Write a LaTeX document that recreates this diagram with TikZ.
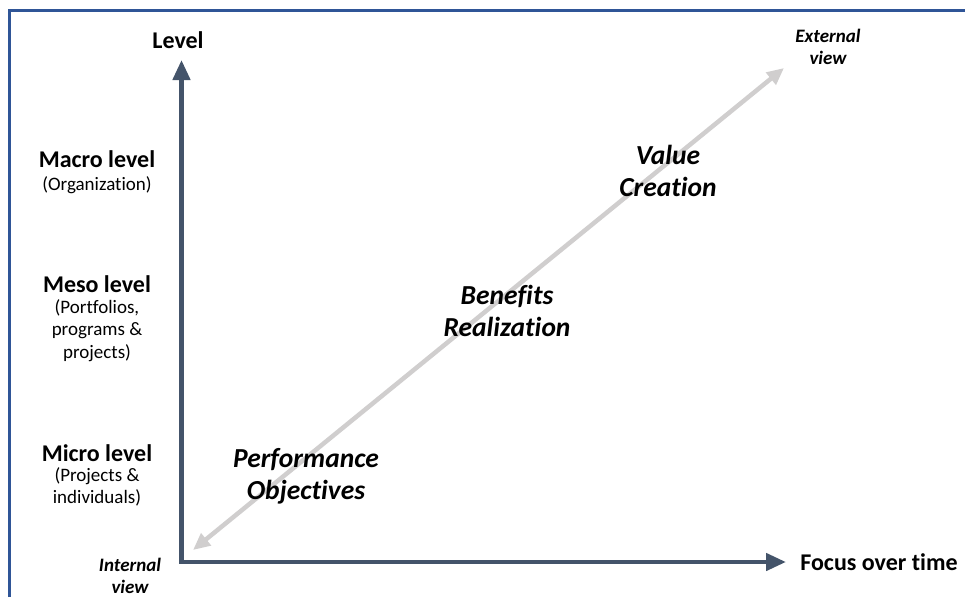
\documentclass[tikz,border=0pt]{standalone}
\usepackage{fontspec}
\setmainfont[Ligatures=NoCommon]{Carlito}
\usetikzlibrary{arrows.meta}
\definecolor{framec}{HTML}{2F5597}
\definecolor{axisc}{HTML}{44546A}
\definecolor{diagc}{HTML}{D0CECE}
\tikzset{
  axisline/.style={draw=axisc, line width=4.5pt, -{Triangle[length=20pt,width=17pt]}},
  diagline/.style={draw=diagc, line width=4.5pt, {Triangle[length=17pt,width=15pt]}-{Triangle[length=17pt,width=15pt]}},
  lvl/.style={font=\fontsize{24}{28}\selectfont\bfseries, align=center, inner sep=0pt},
  sub/.style={font=\fontsize{19}{22.5}\selectfont, align=center, inner sep=0pt},
  phase/.style={font=\fontsize{27.5}{32}\selectfont\bfseries\itshape, align=center, inner sep=0pt},
  view/.style={font=\fontsize{19}{22}\selectfont\bfseries\itshape, align=center, inner sep=0pt}
}
\begin{document}
\begin{tikzpicture}[x=1pt, y=-1pt]
\useasboundingbox (0,0) rectangle (965,597);
\draw[framec, line width=2.8pt] (9.5,597) -- (9.5,10.5) -- (965,10.5);
\coordinate (o) at (181.5,562);
\coordinate (ytop) at (181.5,60);
\coordinate (xend) at (786,562);
\coordinate (dlo) at (193,550);
\coordinate (dhi) at (784,68);
\draw[diagline] (dlo) -- (dhi);
\draw[axisline, line cap=butt] ([yshift=2.25pt]o) -- (ytop);
\draw[axisline] ([xshift=-2.25pt]o) -- (xend);
\node[lvl] (level) at (178,40) {Level};
\node[lvl] (macro) at (97,159) {Macro level};
\node[sub] (macros) at (97,185) {(Organization)};
\node[lvl] (meso) at (97,284) {Meso level};
\node[sub, anchor=north] (mesos) at (97,299) {(Portfolios,\\programs \&\\projects)};
\node[lvl] (micro) at (97,453) {Micro level};
\node[sub, anchor=north] (micros) at (97,467) {(Projects \&\\individuals)};
\node[view] (int) at (130,576) {Internal\\view};
\node[view] (ext) at (828,47) {External\\view};
\node[lvl] (focus) at (879,562) {Focus over time};
\node[phase] (perf) at (306,476) {Performance\\Objectives};
\node[phase] (ben) at (507,311) {Benefits\\Realization};
\node[phase] (val) at (668,171) {Value\\Creation};
\end{tikzpicture}
\end{document}
